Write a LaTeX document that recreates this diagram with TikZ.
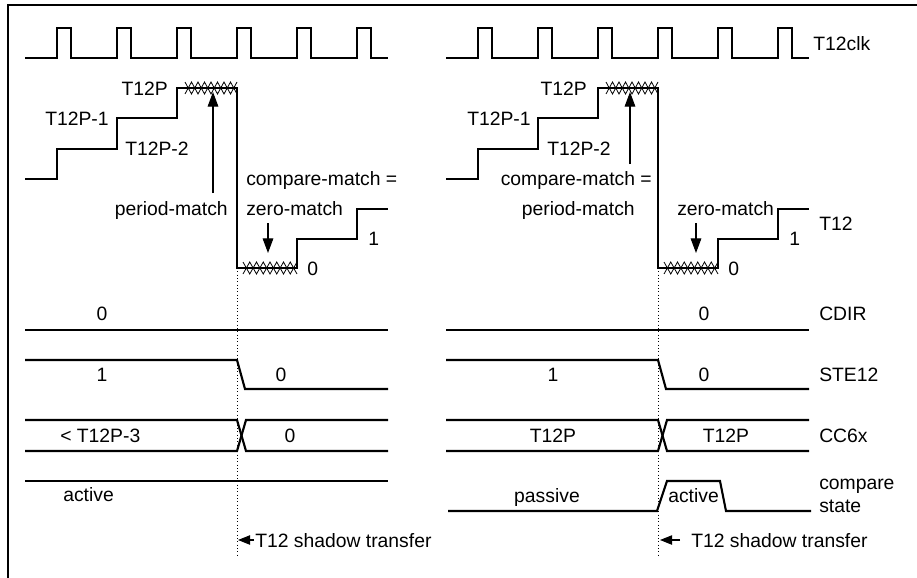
\documentclass[tikz,border=0pt]{standalone}
\usepackage{fontspec}
\setmainfont{Liberation Sans}
\usetikzlibrary{arrows.meta}
\newcommand{\hatchrow}[3]{%
  \pgfmathsetmacro{\hp}{(#2-#1)/4}%
  \draw[hatchline] (#1,{#3-6}) \foreach \k in {1,...,4} { -- ({#1+(\k-0.5)*\hp},{#3+6}) -- ({#1+\k*\hp},{#3-6})};
  \draw[hatchline] (#1,{#3+6}) \foreach \k in {1,...,4} { -- ({#1+(\k-0.5)*\hp},{#3-6}) -- ({#1+\k*\hp},{#3+6})};
}
\begin{document}
\begin{tikzpicture}[x=0.75pt,y=-0.75pt,
  wave/.style={line width=1.6pt, line join=miter},
  framel/.style={line width=1.8pt},
  lbl/.style={inner sep=0pt, font=\fontsize{14.5}{16}\selectfont},
  ptr/.style={line width=0.8pt, -{Triangle[length=11pt,width=8pt]}},
  sarrow/.style={line width=0.8pt, -{Triangle[length=9pt,width=7pt]}},
  guide/.style={line width=0.5pt, dotted},
  hatchline/.style={line width=0.6pt}]
\useasboundingbox (0,0) rectangle (917,578);
\draw[framel] (8,578) -- (8,5) -- (917,5);

\foreach \sx in {0,421} {
\begin{scope}[shift={(\sx,0)}]
  % clock
  \draw[wave] (25,58) -- (57,58) -- (57,28) -- (71,28) -- (71,58)
     -- (117,58) -- (117,28) -- (131,28) -- (131,58)
     -- (177,58) -- (177,28) -- (191,28) -- (191,58)
     -- (237,58) -- (237,28) -- (251,28) -- (251,58)
     -- (297,58) -- (297,28) -- (311,28) -- (311,58)
     -- (357,58) -- (357,28) -- (371,28) -- (371,58) -- (388,58);
  % counter
  \draw[wave] (25,179) -- (57,179) -- (57,149) -- (117,149) -- (117,118)
     -- (177,118) -- (177,88) -- (237,88) -- (237,268) -- (297,268)
     -- (297,239) -- (357,239) -- (357,209) -- (388,209);
  \hatchrow{185}{237}{88}
  \hatchrow{243}{297}{268}
  % CDIR
  \draw[wave] (25,330) -- (388,330);
  % STE12
  \draw[wave] (25,360) -- (237,360) -- (245,389) -- (388,389);
  % CC6x
  \draw[wave] (25,420) -- (237,420) -- (246,451) -- (388,451);
  \draw[wave] (25,451) -- (237,451) -- (246,420) -- (388,420);
  % guide
  \coordinate (g0\sx) at (237,268);
  \coordinate (g1\sx) at (237,557);
  \draw[guide] (g0\sx) -- (g1\sx);
\end{scope}
}

% compare state
\draw[wave] (25,481) -- (388,481);
\draw[wave] (448,511) -- (657,511) -- (667,481) -- (720,481) -- (726,511) -- (811,511);

% ---------- left labels
\node[lbl, anchor=base east] (lp) at (168,95) {T12P};
\node[lbl, anchor=base west] (lp1) at (45,125) {T12P-1};
\node[lbl, anchor=base west] (lp2) at (125,155) {T12P-2};
\node[lbl, anchor=base east] (lpm) at (228,215) {period-match};
\node[lbl, anchor=base west] (lcm) at (246,185) {compare-match =};
\node[lbl, anchor=base west] (lzm) at (246,215) {zero-match};
\node[lbl, anchor=base west] (l1) at (368,245) {1};
\node[lbl, anchor=base west] (l0) at (307,275) {0};
\node[lbl, anchor=base] (lcd) at (102,320) {0};
\node[lbl, anchor=base] (lst1) at (102,381) {1};
\node[lbl, anchor=base] (lst0) at (281,381) {0};
\node[lbl, anchor=base west] (lcc1) at (60,442) {< T12P-3};
\node[lbl, anchor=base] (lcc0) at (290,442) {0};
\node[lbl, anchor=base west] (lact) at (63,501) {active};
\node[lbl, anchor=base west] (lsh) at (255,547) {T12 shadow transfer};

\coordinate (lua) at (213,193); \coordinate (lub) at (213,92);
\draw[ptr] (lua) -- (lub);
\coordinate (lda) at (268,223); \coordinate (ldb) at (268,253);
\draw[ptr] (lda) -- (ldb);
\coordinate (lsa) at (254,540); \coordinate (lsb) at (238,540);
\draw[sarrow] (lsa) -- (lsb);

% ---------- right labels
\node[lbl, anchor=base west] (clk) at (813,50) {T12clk};
\node[lbl, anchor=base east] (rp) at (587,95) {T12P};
\node[lbl, anchor=base west] (rp1) at (467,125) {T12P-1};
\node[lbl, anchor=base west] (rp2) at (547,155) {T12P-2};
\node[lbl, anchor=base east] (rcm) at (652,185) {compare-match =};
\node[lbl, anchor=base east] (rpm) at (635,215) {period-match};
\node[lbl, anchor=base west] (rzm) at (677,215) {zero-match};
\node[lbl, anchor=base west] (rt12) at (819,230) {T12};
\node[lbl, anchor=base west] (r1) at (789,245) {1};
\node[lbl, anchor=base west] (r0) at (728,275) {0};
\node[lbl, anchor=base] (rcd) at (704,320) {0};
\node[lbl, anchor=base west] (rcdir) at (819,320) {CDIR};
\node[lbl, anchor=base] (rst1) at (553,381) {1};
\node[lbl, anchor=base] (rst0) at (704,381) {0};
\node[lbl, anchor=base west] (rste) at (819,381) {STE12};
\node[lbl, anchor=base] (rcc1) at (553,442) {T12P};
\node[lbl, anchor=base] (rcc2) at (726,442) {T12P};
\node[lbl, anchor=base west] (rcc) at (819,442) {CC6x};
\node[lbl, anchor=base] (rpas) at (547,502) {passive};
\node[lbl, anchor=base west] (ract) at (668,502) {active};
\node[lbl, anchor=base west] (rcomp) at (819,489) {compare};
\node[lbl, anchor=base west] (rstate) at (819,512) {state};
\node[lbl, anchor=base west] (rsh) at (691,547) {T12 shadow transfer};

\coordinate (rua) at (630,164); \coordinate (rub) at (630,92);
\draw[ptr] (rua) -- (rub);
\coordinate (rda) at (696,223); \coordinate (rdb) at (696,253);
\draw[ptr] (rda) -- (rdb);
\coordinate (rsa) at (680,540); \coordinate (rsb) at (660,540);
\draw[sarrow] (rsa) -- (rsb);
\end{tikzpicture}
\end{document}
